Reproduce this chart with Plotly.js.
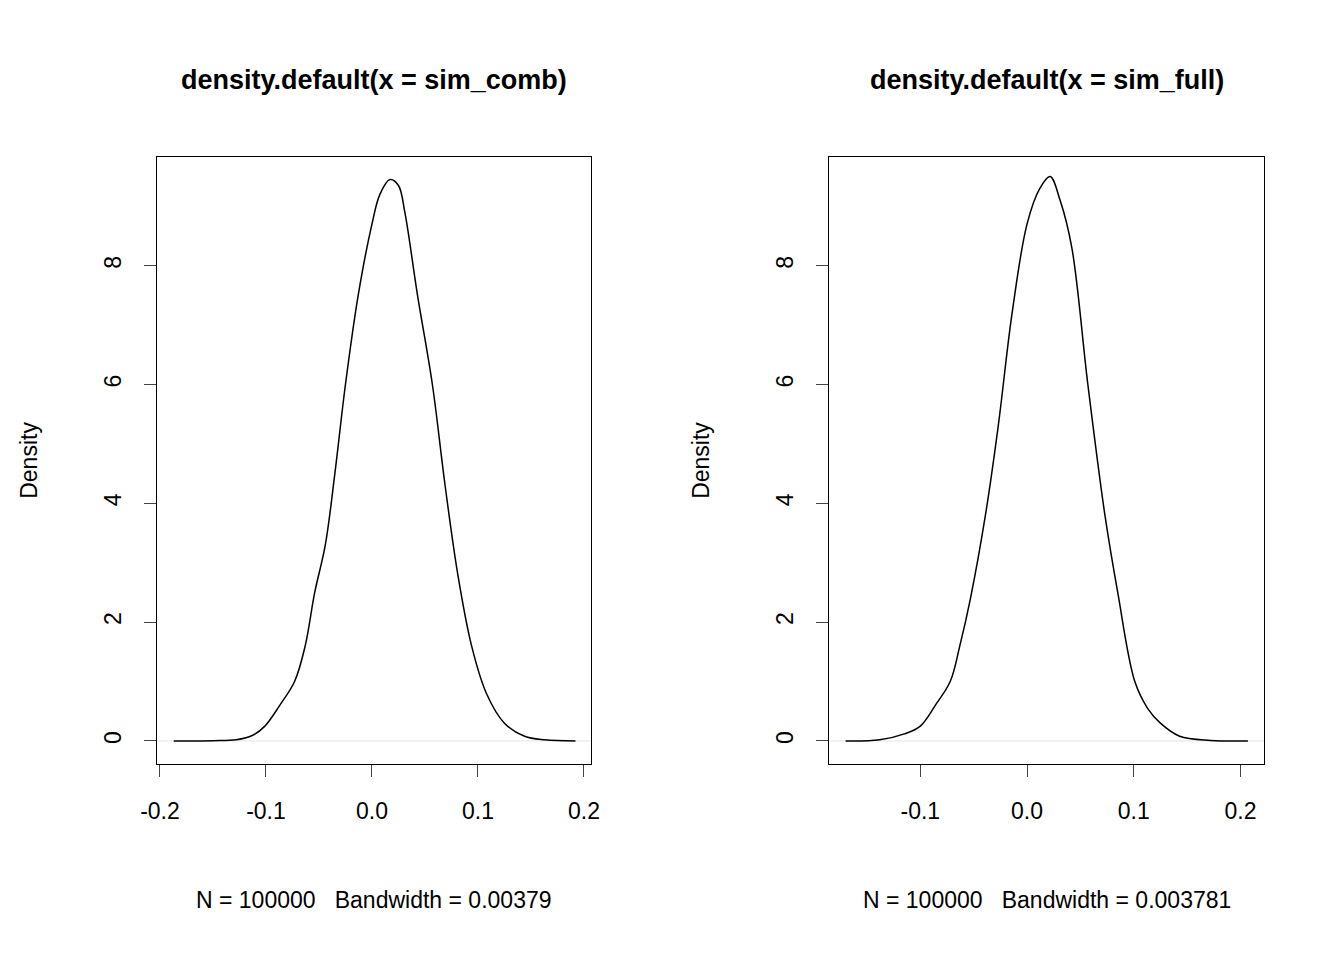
<!DOCTYPE html>
<html>
<head>
<script src="https://cdn.plot.ly/plotly-3.0.1.min.js"></script>
<style>body{margin:0;background:#fff}</style>
</head>
<body>
<div id="chart" style="width:1344px;height:960px"></div>
<script>
// density curves
var combX = [-0.187,-0.150,-0.128,-0.112,-0.101,-0.087,-0.073,-0.063,-0.054,-0.044,-0.035,-0.025,-0.013,0,0.0075,0.017,0.025,0.031,0.043,0.057,0.069,0.081,0.094,0.108,0.125,0.144,0.163,0.192];
var combY = [0,0.005,0.02,0.1,0.25,0.6,1.0,1.6,2.5,3.3,4.5,6.0,7.5,8.7,9.2,9.45,9.35,8.9,7.5,6.0,4.3,2.8,1.6,0.8,0.3,0.08,0.02,0];
var fullX = [-0.170,-0.138,-0.115,-0.100,-0.086,-0.072,-0.063,-0.053,-0.039,-0.027,-0.014,0,0.012,0.0216,0.031,0.042,0.057,0.073,0.085,0.101,0.113,0.125,0.143,0.172,0.207];
var fullY = [0,0.02,0.12,0.25,0.6,1.0,1.6,2.4,3.8,5.3,7.2,8.7,9.3,9.5,9.1,8.3,6.0,3.8,2.5,1.0,0.55,0.3,0.08,0.01,0];
var xTicks = [-0.2,-0.1,0.0,0.1,0.2];
var xTickText = ['-0.2','-0.1','0.0','0.1','0.2'];
var yTicks = [0,2,4,6,8];
var titles = ['density.default(x = sim_comb)','density.default(x = sim_full)'];
var subs = ['N = 100000   Bandwidth = 0.00379','N = 100000   Bandwidth = 0.003781'];

var fam = 'Liberation Sans, Arial, sans-serif';
var font = {family:fam, size:23, color:'#000'};
function xax(dom, rng){
  return {domain:dom, range:rng, tickvals:xTicks, ticktext:xTickText, ticks:'outside', ticklen:12,
    ticklabelstandoff:14, showgrid:false, zeroline:false, showline:true, mirror:true,
    linecolor:'#000', linewidth:1, tickfont:font};
}
function yax(anchor){
  return {domain:[0.2042,0.8365], range:[-0.387,9.83], anchor:anchor, tickvals:yTicks, ticks:'outside', ticklen:12,
    ticklabelstandoff:14, tickangle:-90, showgrid:false, zeroline:false, showline:true, mirror:true,
    linecolor:'#000', linewidth:1, tickfont:font, title:{text:'Density', font:font, standoff:55}};
}
var data = [
  {x:[-0.2028,0.2066], y:[0,0], mode:'lines', line:{color:'#e5e5e5',width:1}, xaxis:'x', yaxis:'y', hoverinfo:'skip'},
  {x:combX, y:combY, mode:'lines', line:{color:'#000',width:1.5,shape:'spline'}, xaxis:'x', yaxis:'y'},
  {x:[-0.1856,0.2221], y:[0,0], mode:'lines', line:{color:'#e5e5e5',width:1}, xaxis:'x2', yaxis:'y2', hoverinfo:'skip'},
  {x:fullX, y:fullY, mode:'lines', line:{color:'#000',width:1.5,shape:'spline'}, xaxis:'x2', yaxis:'y2'}
];
function ann(text, x, ypx, size){
  return {text:text, x:x, y:1-ypx/960, xref:'paper', yref:'paper', xanchor:'center', yanchor:'middle',
    showarrow:false, font:{family:fam, size:size, color:'#000'}};
}
var layout = {
  width:1344, height:960, margin:{l:0,r:0,t:0,b:0}, showlegend:false,
  paper_bgcolor:'#fff', plot_bgcolor:'#fff', font:font,
  xaxis:xax([0.1168,0.4397],[-0.2028,0.2066]),
  yaxis:yax('x'),
  xaxis2:xax([0.6168,0.9405],[-0.1856,0.2221]),
  yaxis2:yax('x2'),
  annotations:[
    ann('<b>'+titles[0]+'</b>', 0.278, 80, 27),
    ann('<b>'+titles[1]+'</b>', 0.7787, 80, 27),
    ann(subs[0], 0.278, 900, 23),
    ann(subs[1], 0.7787, 900, 23)
  ]
};
Plotly.newPlot('chart', data, layout, {displayModeBar:false});
</script>
</body>
</html>
